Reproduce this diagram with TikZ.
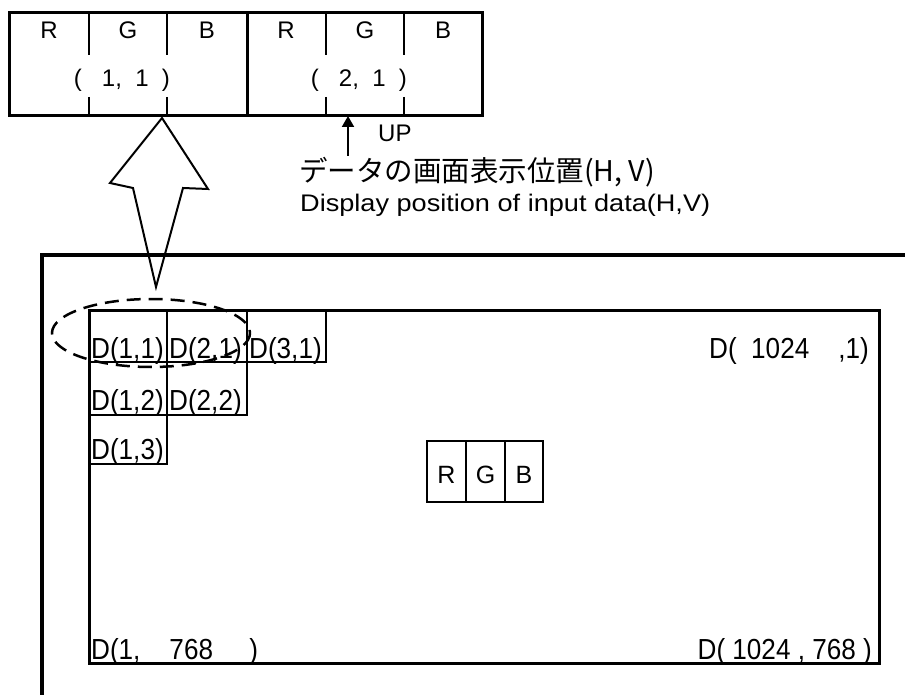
\documentclass[tikz,border=0pt]{standalone}
\usepackage{fontspec}
\setmainfont{Liberation Sans}
\newfontfamily\jpfont{Noto Sans CJK JP}
\newfontfamily\condfont[FakeStretch=0.9]{Liberation Sans}
\newfontfamily\widefont[FakeStretch=1.13]{Liberation Sans}
\usetikzlibrary{arrows.meta}
\begin{document}
\begin{tikzpicture}[x=1pt,y=-1pt,
  heavy/.style={line width=3pt},
  cellline/.style={line width=2.5pt},
  dlabel/.style={anchor=base west, inner sep=0pt, font=\condfont\fontsize{29}{30}\selectfont},
  toplabel/.style={anchor=base, inner sep=0pt, font=\fontsize{24}{26}\selectfont},
  rgblabel/.style={anchor=base, inner sep=0pt, font=\fontsize{25}{27}\selectfont},
  ]
\useasboundingbox (0,0) rectangle (905,695);
% ---- top pixel strip ----
\draw[heavy] (9,13) rectangle (482,116);
\draw[heavy] (247,13) -- (247,116);
\foreach \x in {89,167,326,404} {
  \draw[cellline] (\x,13) -- (\x,55);
  \draw[cellline] (\x,97) -- (\x,116);
}
\node[toplabel] (r1) at (49,39) {R};
\node[toplabel] (g1) at (128,39) {G};
\node[toplabel] (b1) at (207,39) {B};
\node[toplabel] (r2) at (286,39) {R};
\node[toplabel] (g2) at (365,39) {G};
\node[toplabel] (b2) at (443,39) {B};
\node[toplabel] (p1) at (122,87) {(\ \ \ 1,\ \ 1\ \ )};
\node[toplabel] (p2) at (359,87) {(\ \ \ 2,\ \ 1\ \ )};
% ---- UP arrow and captions ----
\coordinate (uptip) at (348,116);
\coordinate (upfoot) at (348,156);
\draw[line width=2pt, -{Triangle[length=11pt,width=12pt]}] (upfoot) -- (uptip);
\node[anchor=base west, inner sep=0pt, font=\fontsize{24}{26}\selectfont] (up) at (378,142) {UP};
\node[anchor=west, inner sep=0pt, font=\jpfont\fontsize{28.5}{30}\selectfont] (jp) at (299,172) {データの画面表示位置(H, V)};
\node[anchor=base west, inner sep=0pt, font=\widefont\fontsize{24}{26}\selectfont] (en) at (300,212) {Display position of input data(H,V)};
% ---- big outline arrow ----
\draw[line width=2pt, line join=miter] (162,118) -- (208,189) -- (183,188) -- (156,287) -- (133,188) -- (110,183) -- cycle;
% ---- screen frame ----
\draw[line width=3.5pt] (905,255) -- (42,255) -- (42,695);
\draw[heavy] (89,310) rectangle (879,663);
% ---- cells ----
\draw[cellline] (89,310) rectangle (167,362);
\draw[cellline] (167,310) rectangle (247,362);
\draw[cellline] (247,310) rectangle (326,362);
\draw[cellline] (89,362) rectangle (167,415);
\draw[cellline] (167,362) rectangle (247,415);
\draw[cellline] (89,415) rectangle (167,464);
\node[dlabel] (d11) at (91,358) {D(1,1)};
\node[dlabel] (d21) at (169,358) {D(2,1)};
\node[dlabel] (d31) at (249,358) {D(3,1)};
\node[dlabel] (d12) at (91,410) {D(1,2)};
\node[dlabel] (d22) at (169,410) {D(2,2)};
\node[dlabel] (d13) at (91,459) {D(1,3)};
\node[dlabel] (d10241) at (709,358) {D(\ \ 1024\ \ \ \ ,1)};
\node[dlabel] (d1768) at (91,659) {D(1,\ \ \ \ 768\ \ \ \ \ )};
\node[dlabel, anchor=base east] (d1024768) at (872,659) {D(\ 1024\ ,\ 768\ )};
% ---- RGB box ----
\draw[line width=2pt] (427,441) rectangle (543,502);
\draw[line width=2pt] (466,441) -- (466,502);
\draw[line width=2pt] (505,441) -- (505,502);
\node[rgblabel] (rr) at (446.5,483) {R};
\node[rgblabel] (gg) at (485.5,483) {G};
\node[rgblabel] (bb) at (524,483) {B};
% ---- dashed ellipse ----
\draw[line width=2.5pt, dash pattern=on 14pt off 8pt] (151,333) ellipse [x radius=99, y radius=34];
\end{tikzpicture}
\end{document}
